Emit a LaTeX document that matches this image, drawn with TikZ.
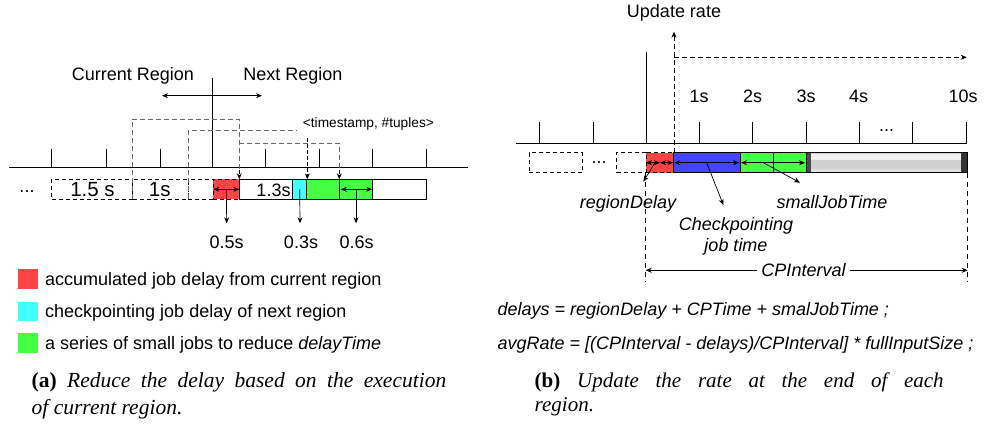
\documentclass[tikz,border=0pt]{standalone}
\usepackage{fontspec}
\setmainfont{Liberation Sans}
\newfontfamily\capfont{Liberation Serif}
\usetikzlibrary{arrows.meta}
\definecolor{cred}{HTML}{FF4444}
\definecolor{ccyan}{HTML}{44FFFF}
\definecolor{cgreen}{HTML}{44FF44}
\definecolor{cblue}{HTML}{4444FF}
\definecolor{dgray}{HTML}{666666}
\definecolor{barmid}{HTML}{D0D0D0}
\definecolor{bartop}{HTML}{F0F0F0}
\definecolor{barbot}{HTML}{E2E2E2}
\definecolor{barl}{HTML}{4A4A4A}
\definecolor{barr}{HTML}{333333}
\tikzset{
  cell/.style={draw, line width=0.8pt, inner sep=0pt, outer sep=0pt, minimum height=20pt, anchor=west},
  dcell/.style={cell, dash pattern=on 4pt off 3pt},
  lbl/.style={inner sep=0pt, anchor=base, font=\fontsize{18}{20}\selectfont},
  tick/.style={line width=0.8pt},
  arr/.style={-{Stealth[length=6pt,width=5pt]}, line width=0.7pt},
  darr/.style={{Stealth[length=6pt,width=5pt]}-{Stealth[length=6pt,width=5pt]}, line width=0.7pt},
  gdash/.style={dgray, line width=0.9pt, dash pattern=on 5pt off 3pt},
  sq/.style={inner sep=0pt, minimum size=19.4pt, anchor=center},
  legtxt/.style={inner sep=0pt, anchor=base west, font=\fontsize{18}{20}\selectfont},
  captxt/.style={inner sep=0pt, anchor=base west, font=\capfont\fontsize{21.5}{24}\selectfont},
  capbtxt/.style={inner sep=0pt, anchor=base west, font=\capfont\fontsize{21}{23}\selectfont},
}
\begin{document}
\begin{tikzpicture}[x=1pt,y=-1pt]
\useasboundingbox (0,0) rectangle (984,426);
% ================= LEFT PANEL =================
\coordinate (LA1) at (9,167.7);
\coordinate (LA2) at (468,167.7);
\draw[tick] (LA1) -- (LA2);
\foreach \x in {51.7,106,160,265.7,319.3,372.7,426}{
  \draw[tick] (\x,148.7) -- (\x,167.7);
}
\coordinate (LT1) at (212.7,78.3);
\coordinate (LT2) at (212.7,167.7);
\draw[tick] (LT1) -- (LT2);
\node[lbl] (curreg) at (133,80) {Current Region};
\node[lbl] (nextreg) at (293,80) {Next Region};
\coordinate (RA1) at (162,95.7);
\coordinate (RA2) at (262,95.7);
\draw[darr] (RA1) -- (RA2);
% bar cells
\node[dcell, minimum width=81pt] (d1) at (51.7,189.3) {};
\node[dcell, minimum width=55.6pt] (d2) at (132.7,189.3) {};
\node[dcell, minimum width=25pt] (d3) at (188.3,189.3) {};
\node[dcell, fill=cred, minimum width=26pt] (rc) at (213.3,189.3) {};
\node[cell, minimum width=53.4pt] (w1) at (239.3,189.3) {};
\node[cell, fill=ccyan, minimum width=14pt] (cc) at (292.7,189.3) {};
\node[cell, fill=cgreen, minimum width=32.6pt] (g1) at (306.7,189.3) {};
\node[cell, fill=cgreen, minimum width=33.4pt] (g2) at (339.3,189.3) {};
\node[cell, minimum width=53.3pt] (w2) at (372.7,189.3) {};
\node[lbl, font=\fontsize{20.5}{22}\selectfont] (t15) at (92.5,196.7) {1.5 s};
\node[lbl, font=\fontsize{20.5}{22}\selectfont] (t1) at (159.7,196.7) {1s};
\node[lbl] (t13) at (273.5,196.7) {1.3s};
\node[lbl] (ldots) at (27,192) {...};
% dashed windows
\coordinate (b1a) at (132.7,199.3);
\coordinate (b1b) at (132.7,119);
\coordinate (b1c) at (239.3,119);
\coordinate (b1d) at (239.3,179.3);
\draw[gdash] (b1a) -- (b1b) -- (b1c) -- (239.3,170);
\draw[arr, dash pattern=on 4pt off 2pt] (239.3,170) -- (b1d);
\coordinate (b2a) at (188.3,199.3);
\coordinate (b2b) at (188.3,130.7);
\coordinate (b2c) at (296.7,130.7);
\draw[gdash] (b2a) -- (b2b) -- (b2c);
\coordinate (b3a) at (239.3,143.3);
\coordinate (b3b) at (339.3,143.3);
\coordinate (b3c) at (339.3,179.3);
\draw[gdash] (b3a) -- (b3b) -- (339.3,170);
\draw[arr, dash pattern=on 4pt off 2pt] (339.3,170) -- (b3c);
\node[inner sep=0pt, anchor=base west, font=\fontsize{13.7}{15}\selectfont] (ts) at (302.7,127.3) {<timestamp, \#tuples>};
\coordinate (tsa) at (307.3,138.3);
\coordinate (tsb) at (307.3,179.3);
\draw[arr, dash pattern=on 4pt off 2pt] (tsa) -- (tsb);
% inner arrows
\draw[darr] (rc.west) -- (rc.east);
\draw[darr] ([xshift=1.5pt]g2.west) -- ([xshift=-0.5pt]g2.east);
\coordinate (p05) at (226.7,223.3);
\coordinate (p03) at (300,223.3);
\coordinate (p06) at (356,223.3);
\draw[arr] (rc.center) -- (p05);
\draw[arr] (cc.center) -- (p03);
\draw[arr] (g2.center) -- (p06);
\node[lbl] (l05) at (226.7,248.3) {0.5s};
\node[lbl] (l03) at (301,248.3) {0.3s};
\node[lbl] (l06) at (356.7,248.3) {0.6s};
% legend
\node[sq, fill=cred] (sq1) at (28,279) {};
\node[sq, fill=ccyan] (sq2) at (28,311.3) {};
\node[sq, fill=cgreen] (sq3) at (28,343) {};
\node[legtxt] (lg1) at (45,285.5) {accumulated job delay from current region};
\node[legtxt] (lg2) at (45,317.5) {checkpointing job delay of next region};
\node[legtxt] (lg3) at (45,349.5) {a series of small jobs to reduce \textit{delayTime}};
% caption a
\node[captxt] (capa1) at (31.5,387) {\makebox[414.5pt][s]{\textbf{(a)} \textit{Reduce the delay based on the execution}}};
\node[captxt] (capa2) at (31.5,414) {\textit{of current region.}};
% ================= RIGHT PANEL =================
\coordinate (RX1) at (516,143.3);
\coordinate (RX2) at (966.7,143.3);
\draw[tick] (RX1) -- (RX2);
\foreach \x in {539.3,593.3,699,752.7,806,859.3,912.3,966}{
  \draw[tick] (\x,121.7) -- (\x,143.3);
}
\coordinate (RT1) at (646,51.7);
\coordinate (RT2) at (646,143.3);
\draw[tick] (RT1) -- (RT2);
\node[lbl] (s1) at (699,102.7) {1s};
\node[lbl] (s2) at (752.7,102.7) {2s};
\node[lbl] (s3) at (806,102.7) {3s};
\node[lbl] (s4) at (858.5,102.7) {4s};
\node[lbl] (s10) at (963,102.7) {10s};
\node[lbl] (rdots) at (886.7,131) {...};
\node[lbl] (upd) at (674,17.3) {Update rate};
\coordinate (U0) at (674,152.7);
\coordinate (U1) at (674,31.7);
\coordinate (H0) at (674,57.3);
\coordinate (H1) at (966.7,57.3);
\draw[arr, dash pattern=on 5pt off 3pt] (U0) -- (U1);
\draw[arr, dash pattern=on 5pt off 3pt] (H0) -- (H1);
% bar cells
\node[dcell, minimum width=53pt] (rd1) at (529.3,162.7) {};
\node[lbl] (rbdots) at (599,163) {...};
\node[dcell, minimum width=29.3pt] (rd2) at (616.7,162.7) {};
\node[dcell, fill=cred, minimum width=27.3pt] (rr) at (646,162.7) {};
\node[cell, fill=cblue, minimum width=66.7pt] (rb) at (673.3,162.7) {};
\node[cell, fill=cgreen, minimum width=33.3pt] (rg1) at (740,162.7) {};
\node[cell, fill=cgreen, minimum width=32.7pt] (rg2) at (773.3,162.7) {};
% gray bar
\fill[barmid] (806.7,152.7) rectangle (967.7,172.7);
\fill[bartop] (810.7,154) rectangle (960.7,159.5);
\fill[barbot] (810.7,169.3) rectangle (960.7,171.7);
\fill[barl] (806.7,152.7) rectangle (810.7,172.7);
\fill[barr] (960.7,152.7) rectangle (967.7,172.7);
\node[cell, minimum width=161pt] (rgray) at (806.7,162.7) {};
% inner arrows
\coordinate (rrm) at (660,162.7);
\draw[darr] (rr.west) -- (rrm);
\draw[darr] (rrm) -- (rr.east);
\draw[darr] ([xshift=1pt]rb.west) -- ([xshift=-1pt]rb.east);
\draw[darr] ([xshift=1pt]rg1.west) -- ([xshift=-1pt]rg2.east);
% pointers
\coordinate (pr0) at (655,162.7);
\coordinate (pr1) at (643.3,181.7);
\coordinate (pb0) at (706.7,162.7);
\coordinate (pb1) at (723.3,205);
\coordinate (pg0) at (763.3,162.7);
\coordinate (pg1) at (800,182.7);
\draw[arr] (pr0) -- (pr1);
\draw[arr] (pb0) -- (pb1);
\draw[arr] (pg0) -- (pg1);
\node[lbl, font=\fontsize{18}{20}\selectfont\itshape] (rdl) at (628,208.3) {regionDelay};
\node[lbl, font=\fontsize{18}{20}\selectfont\itshape] (sjt) at (832,208.3) {smallJobTime};
\node[lbl, font=\fontsize{18}{20}\selectfont\itshape] (ckp) at (736,230) {Checkpointing};
\node[lbl, font=\fontsize{18}{20}\selectfont\itshape] (jbt) at (736,251.7) {job time};
% CP interval
\coordinate (V1a) at (645.7,172.7);
\coordinate (V1b) at (645.7,281.7);
\coordinate (V2a) at (967.7,172.7);
\coordinate (V2b) at (967.7,281.7);
\draw[line width=0.8pt, dash pattern=on 5pt off 4pt] (V1a) -- (V1b);
\draw[line width=0.8pt, dash pattern=on 5pt off 4pt] (V2a) -- (V2b);
\node[lbl, font=\fontsize{18}{20}\selectfont\itshape, inner xsep=4pt] (cpi) at (803.5,276.7) {CPInterval};
\draw[arr] (cpi.west) -- (cpi.west -| V1a);
\draw[arr] (cpi.east) -- (cpi.east -| V2a);
% formulas
\node[legtxt, font=\fontsize{18}{20}\selectfont\itshape] (f1) at (497.5,315.5) {delays = regionDelay + CPTime + smalJobTime ;};
\node[legtxt, font=\fontsize{18}{20}\selectfont\itshape] (f2) at (497.5,349.5) {avgRate = [(CPInterval - delays)/CPInterval] * fullInputSize ;};
% caption b
\node[capbtxt] (capb1) at (534.5,387) {\makebox[409pt][s]{\textbf{(b)} \textit{Update the rate at the end of each}}};
\node[capbtxt] (capb2) at (534.5,411) {\textit{region.}};
\end{tikzpicture}
\end{document}
